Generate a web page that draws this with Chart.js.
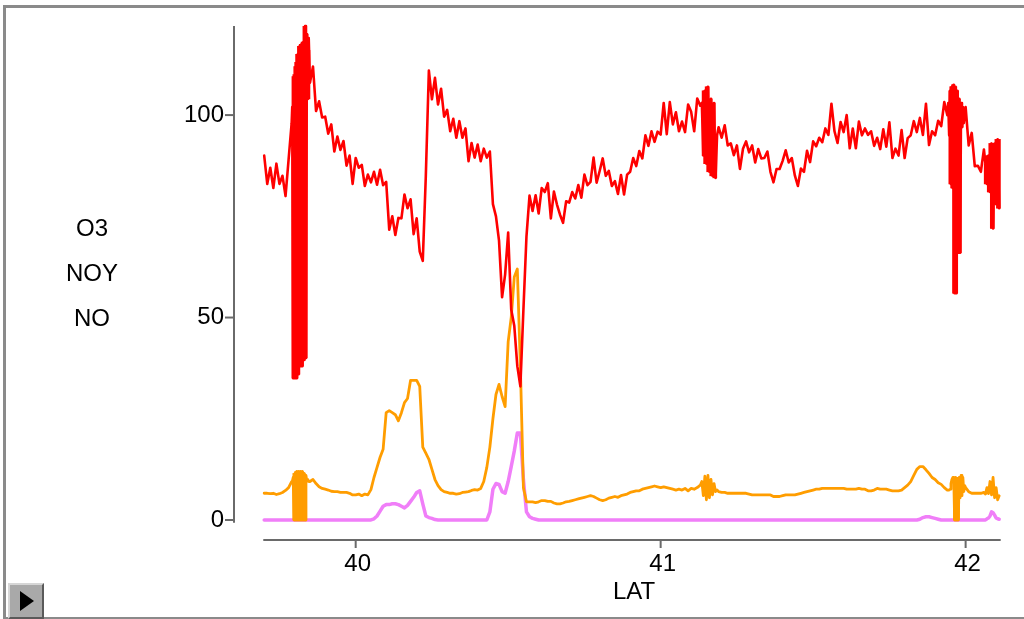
<!DOCTYPE html>
<html>
<head>
<meta charset="utf-8">
<script src="https://cdn.jsdelivr.net/npm/chart.js@4.4.0/dist/chart.umd.min.js"></script>
<style>
  body { margin: 0; background: #fff; }
  #wrap { position: relative; width: 1024px; height: 619px; overflow: hidden; }
  #frame { position: absolute; left: 3px; top: 5px; width: 1030px; height: 609px;
           border-left: 3px solid #8a8a8a; border-top: 3px solid #8a8a8a; border-bottom: 2px solid #8a8a8a; }
  #play { position: absolute; left: 8px; top: 583px; width: 32px; height: 32px; background: #a9a9a9;
          border-top: 2px solid #d6d6d6; border-left: 2px solid #d6d6d6; border-right: 2px solid #5a5a5a; border-bottom: 2px solid #5a5a5a; }
  #play:after { content: ''; position: absolute; left: 10px; top: 6px; border-left: 14px solid #000;
                border-top: 10px solid transparent; border-bottom: 10px solid transparent; }
  canvas { position: absolute; left: 0; top: 0; }
</style>
</head>
<body>
<div id="wrap">
  <canvas id="myChart" width="1024" height="619"></canvas>
  <div id="frame"></div>
  <div id="play"></div>
</div>
<script>
// latitude of each sample (denser where the trace jitters hard)
const lat = [
  39.70,39.71,39.72,39.73,39.74,39.75,39.76,39.77,39.78,39.79,
  39.792,39.795,39.798,39.801,39.804,39.807,39.810,39.813,39.816,39.819,
  39.822,39.825,39.828,39.831,39.834,39.837,39.840,39.843,39.846,
  39.85,39.86,39.87,39.88,39.89,39.90,39.91,39.92,39.93,39.94,
  39.95,39.96,39.97,39.98,39.99,40.00,40.01,40.02,40.03,40.04,
  40.05,40.06,40.07,40.08,40.09,40.10,40.11,40.12,40.13,40.14,
  40.15,40.16,40.17,40.18,40.19,40.20,40.21,40.22,40.23,40.24,
  40.25,40.26,40.27,40.28,40.29,40.30,40.31,40.32,40.33,40.34,
  40.35,40.36,40.37,40.38,40.39,40.40,40.41,40.42,40.43,40.44,
  40.45,40.46,40.47,40.48,40.49,40.50,40.51,40.52,40.53,40.54,
  40.55,40.56,40.57,40.58,40.59,40.60,40.61,40.62,40.63,40.64,
  40.65,40.66,40.67,40.68,40.69,40.70,40.71,40.72,40.73,40.74,
  40.75,40.76,40.77,40.78,40.79,40.80,40.81,40.82,40.83,40.84,
  40.85,40.86,40.87,40.88,40.89,40.90,40.91,40.92,40.93,40.94,
  40.95,40.96,40.97,40.98,40.99,41.00,41.01,41.02,41.03,41.04,
  41.05,41.06,41.07,41.08,41.09,41.10,41.11,41.12,41.13,
  41.135,41.14,41.145,41.15,41.155,41.16,41.165,41.17,41.175,41.18,41.185,
  41.19,41.20,41.21,41.22,41.23,41.24,41.25,41.26,41.27,41.28,
  41.29,41.30,41.31,41.32,41.33,41.34,41.35,41.36,41.37,41.38,
  41.39,41.40,41.41,41.42,41.43,41.44,41.45,41.46,41.47,41.48,
  41.49,41.50,41.51,41.52,41.53,41.54,41.55,41.56,41.57,41.58,
  41.59,41.60,41.61,41.62,41.63,41.64,41.65,41.66,41.67,41.68,
  41.69,41.70,41.71,41.72,41.73,41.74,41.75,41.76,41.77,41.78,
  41.79,41.80,41.81,41.82,41.83,41.84,41.85,41.86,41.87,41.88,
  41.89,41.90,41.91,41.92,41.93,41.94,
  41.943,41.946,41.949,41.952,41.955,41.958,41.961,41.964,41.967,41.970,
  41.973,41.976,41.979,41.982,41.985,41.988,41.991,41.994,41.997,
  42.00,42.01,42.02,42.03,42.04,42.05,42.06,
  42.065,42.07,42.075,42.08,42.085,42.09,42.095,42.10,42.105,42.11
];

const o3 = [
  90,83,87,82,88,83,85,80,89,98,
  102,35,109.5,35,112,35,115,36,117,38,
  117.5,38,118,39.5,122,40,120,104,119,
  108,112,101,103.4,99.4,99.6,95.4,97.7,91,94.7,
  91.4,93.6,87.5,90,83,89.4,87,87.7,82.5,85.3,
  83.4,86,82.8,86.5,82.7,83.5,71.7,75,70.4,74.6,
  74.5,80.4,77,79.2,70.6,74.5,66.3,64,85,111,
  103.9,109.2,102.6,106.5,99.6,101.3,96,99.1,94.4,98.5,
  94.4,96.7,88.6,93.1,89.5,92.7,88.6,91.7,89.5,91,
  78,75,69,55,60.6,71,52,48,38,33,
  52,70,80.1,76.3,80.2,75.7,82,81,83.2,74.5,
  81.1,77.9,75.4,73.4,78.7,78.4,81,79.4,82.7,79.6,
  85.3,82.7,83.5,89.5,83.3,86.2,89.3,85,86.2,82.5,
  83.7,80.5,85.2,80.4,85.3,86,89.4,87.4,91.1,89.3,
  95,92.4,96,93.4,95.9,95.2,103,95.3,103.2,97.7,
  100.7,96,98.4,95.8,102.6,100.8,96,104.1,102.3,
  103,90,106,88,107,86,104,85,103,84.5,95,
  97,94.4,97.5,92.5,93,90.1,92.5,86.7,91.7,93.5,
  90.8,92.5,88.3,91.6,89.3,89.4,91,86,83.4,86.7,
  86.7,88.7,91.3,88.3,89.4,85.1,82.5,86.8,86,91.2,
  88.4,93.5,92.3,94.4,93.3,96.7,95.1,102.8,96,93.1,
  98.3,95.8,100,91.8,96.7,91.8,98.4,95,96.7,95.1,
  96,92.4,94.4,91.6,96.5,92.2,98.2,89.4,91.7,90,
  96.3,89.4,94.3,95,98.5,95.8,99.3,95.1,102.8,92.6,
  96,95,98.6,97.3,103.2,100,
  103,95,106,83,107,82,107.5,56,107,56,
  106,66,104,66,103,97,102,98,100,
  102,92.5,95.6,87.4,87.5,86,91.5,
  88,83,90,81,93,72,93,78,94,77
];

const noy = [
  6.6,6.6,6.5,6.6,6.3,6.5,6.8,7.3,8.0,9.5,
  9.5,10.5,0,11.5,0,12,0,12,0,12,
  0,12,0,11.5,0,11,9.5,10,9.5,
  9.5,10,9,8.2,7.8,7.6,7.4,7.1,7.0,7.0,
  6.8,6.8,6.8,6.6,6.2,6.2,6.4,6.0,6.4,6.2,
  7.5,10.5,13,15.5,17.5,26.5,27,26.5,26,24.5,
  26.5,29,30,34.5,34.5,34.5,33,18,16.5,15,
  12.5,10,8.5,7.5,7,6.8,6.6,6.6,6.4,6.5,
  6.8,6.9,7.0,7.3,7.5,7.4,7.8,9.5,13,18,
  25,31,33.5,30.5,28,44,50,60,62,38,
  8,4.5,4.5,4.5,4.3,4.5,4.8,4.8,4.6,4.6,
  4.2,4.0,4.0,4.2,4.5,4.6,4.8,5.0,5.2,5.4,
  5.6,5.8,6.0,5.8,5.4,5.0,4.8,5.0,5.4,5.6,
  5.8,5.6,6.0,6.2,6.4,6.8,7.0,7.2,7.2,7.6,
  7.8,8.0,8.2,8.4,8.2,8.0,8.2,8.0,7.8,7.6,
  7.4,7.6,7.4,7.8,7.2,7.8,7.6,8.0,8.6,
  9.5,6.0,10.8,5.0,11,5.5,10,6.2,9,7.0,7.4,
  7.0,6.8,6.8,6.6,6.6,6.6,6.6,6.6,6.6,6.6,
  6.4,6.2,6.2,6.2,6.2,6.2,6.2,6.2,5.8,5.8,
  5.8,6.0,6.2,6.2,6.2,6.2,6.4,6.6,6.8,7.0,
  7.2,7.4,7.6,7.6,7.8,7.8,7.8,7.8,7.8,7.8,
  7.8,7.8,7.6,7.6,7.6,7.6,7.8,7.6,7.6,7.2,
  7.2,7.4,7.8,7.6,7.6,7.6,7.4,7.2,7.2,7.2,
  7.4,8.0,8.6,9.5,11,12.5,13.2,13.2,12.4,11.5,
  10.5,10,9.2,8.8,8,7.4,
  7.4,7.4,7.6,9,10,10.5,10.5,0,10.5,0,
  10,0,10.5,5.5,11,6,10.5,7,8.5,
  8,7,6.6,6.6,6.6,6.6,6.8,
  6.4,8,6.5,9.5,6.2,10.5,5.5,8,5,6
];

const no = [
  0,0,0,0,0,0,0,0,0,0,
  0,0,0,0,0,0,0,0,0,0,
  0,0,0,0,0,0,0,0,0,
  0,0,0,0,0,0,0,0,0,0,
  0,0,0,0,0,0,0,0,0,0,
  0,0.3,1.0,2.2,3.4,3.8,3.8,4.0,4.0,3.8,
  3.4,3.0,3.6,4.6,5.6,6.8,7.2,4.0,1.0,0.6,
  0.4,0.1,0,0,0,0,0,0,0,0,
  0,0,0,0,0,0,0,0,0,2.0,
  7.6,9.0,8.8,7.0,6.6,9.5,13.2,17,21.5,21.5,
  10,2.0,0.8,0.4,0.2,0,0,0,0,0,
  0,0,0,0,0,0,0,0,0,0,
  0,0,0,0,0,0,0,0,0,0,
  0,0,0,0,0,0,0,0,0,0,
  0,0,0,0,0,0,0,0,0,0,
  0,0,0,0,0,0,0,0,0,
  0,0,0,0,0,0,0,0,0,0,0,
  0,0,0,0,0,0,0,0,0,0,
  0,0,0,0,0,0,0,0,0,0,
  0,0,0,0,0,0,0,0,0,0,
  0,0,0,0,0,0,0,0,0,0,
  0,0,0,0,0,0,0,0,0,0,
  0,0,0,0,0,0,0,0,0,0,
  0,0,0,0,0,0,0.2,0.6,0.8,0.8,
  0.6,0.4,0.2,0,0,0,
  0,0,0,0,0,0,0,0,0,0,
  0,0,0,0,0,0,0,0,0,
  0,0,0,0,0,0,0,
  0,0.3,0.5,1.0,2.0,1.8,1.2,0.5,0.3,0.2
];

// spread (low / high) of the trace where it jitters too fast to resolve
const o3BandLat = [
  39.795,39.798,39.801,39.804,39.807,39.810,39.813,39.816,39.819,
  39.822,39.825,39.828,39.831,39.834,39.837,39.840,39.843,39.846,
  41.14,41.145,41.15,41.155,41.16,41.165,41.17,41.175,41.18,
  41.949,41.952,41.955,41.958,41.961,41.964,41.967,41.970,
  41.973,41.976,41.979,41.982,41.985,41.988,41.991,
  42.065,42.07,42.075,42.08,42.085,42.09,42.095,42.10,42.105,42.11
];
const o3BandLo = [
  35,35,35,35,35,36,36,38,38,
  38,38,39.5,39.5,40,40,104,104,104,
  90,88,88,86,86,85,85,84.5,84.5,
  83,83,82,82,56,56,56,56,
  66,66,66,66,97,97,98,
  83,83,81,81,72,72,78,78,77,77
];
const o3BandHi = [
  109.5,110,112,113,115,115,117,117,117.5,
  117.5,118,118,122,122,120,120,119,116,
  106,106,107,107,104,104,103,103,95,
  106,107,107,107.5,107.5,107,107,106,
  106,104,104,103,103,102,102,
  88,90,90,93,93,93,93,94,94,94
];

const noyBandLat = [
  39.798,39.801,39.804,39.807,39.810,39.813,39.816,39.819,39.822,39.825,39.828,39.831,39.834,
  41.964,41.967,41.970,41.973,41.976
];
const noyBandLo = [0,0,0,0,0,0,0,0,0,0,0,0,0, 0,0,0,0,0];
const noyBandHi = [11.5,11.5,12,12,12,12,12,12,12,12,11.5,11.5,11, 10.5,10.5,10.5,10.5,10.5];

const yTicks = [0, 50, 100];
const xTicks = [40, 41, 42];
const seriesNames = ['O3', 'NOY', 'NO'];

const FONT = '24px "Liberation Sans", Arial, sans-serif';

let axes = {
  id: 'axes',
  beforeDatasetsDraw(chart) {
    const { ctx, scales: { x, y } } = chart;
    ctx.save();
    ctx.strokeStyle = '#6a6a6a';
    ctx.lineWidth = 2;
    // y axis (stops just below zero)
    const ax = x.left;
    ctx.beginPath();
    ctx.moveTo(ax, y.getPixelForValue(122));
    ctx.lineTo(ax, y.getPixelForValue(-0.7));
    ctx.stroke();
    yTicks.forEach(v => {
      const py = y.getPixelForValue(v);
      ctx.beginPath();
      ctx.moveTo(ax - 9, py);
      ctx.lineTo(ax, py);
      ctx.stroke();
    });
    // x axis, offset below the plot
    const ay = y.bottom;
    ctx.beginPath();
    ctx.moveTo(x.getPixelForValue(39.697), ay);
    ctx.lineTo(x.getPixelForValue(42.115), ay);
    ctx.stroke();
    xTicks.forEach(v => {
      const px = x.getPixelForValue(v);
      ctx.beginPath();
      ctx.moveTo(px, ay);
      ctx.lineTo(px, ay + 8);
      ctx.stroke();
    });
    ctx.restore();
  },
  afterDraw(chart) {
    const { ctx, scales: { x, y } } = chart;
    ctx.save();
    ctx.fillStyle = '#000';
    ctx.font = FONT;
    ctx.textBaseline = 'middle';
    ctx.textAlign = 'right';
    yTicks.forEach(v => ctx.fillText(String(v), x.left - 10, y.getPixelForValue(v)));
    ctx.textAlign = 'center';
    xTicks.forEach(v => ctx.fillText(String(v), x.getPixelForValue(v) + 2, y.bottom + 24));
    ctx.fillText('LAT', 634, 592);
    seriesNames.forEach((s, i) => ctx.fillText(s, 92, 229 + i * 45));
    ctx.restore();
  }
};

let plot = () => {
  const ctx = document.getElementById('myChart');
  const pts = (arr) => lat.map((v, i) => ({ x: v, y: arr[i] }));
  const band = (xs, lo, hi) => xs.map((v, i) => ({ x: v, y: [lo[i], hi[i]] }));
  // higher order is drawn first: NO, NOY, NOY spread, O3, O3 spread on top
  const dataset = {
    datasets: [
      { label: 'O3', data: pts(o3), borderColor: '#ff0000', borderWidth: 2.6, order: 1 },
      { type: 'bar', label: 'O3 spread', data: band(o3BandLat, o3BandLo, o3BandHi),
        backgroundColor: '#ff0000', barThickness: 2.5, grouped: false, order: 0.5 },
      { label: 'NOY', data: pts(noy), borderColor: '#ff9d00', borderWidth: 2.8, order: 2 },
      { type: 'bar', label: 'NOY spread', data: band(noyBandLat, noyBandLo, noyBandHi),
        backgroundColor: '#ff9d00', barThickness: 2.5, grouped: false, order: 1.8 },
      { label: 'NO', data: pts(no), borderColor: '#f07ef8', borderWidth: 3.5, order: 3 }
    ]
  };
  const config = {
    type: 'line',
    data: dataset,
    options: {
      responsive: false,
      animation: false,
      devicePixelRatio: 1,
      layout: { padding: { left: 234, right: 23, top: 26, bottom: 79 } },
      elements: {
        point: { radius: 0 },
        line: { tension: 0, fill: false, borderJoinStyle: 'round', borderCapStyle: 'round' }
      },
      datasets: { line: { clip: false } },
      plugins: { legend: { display: false }, tooltip: { enabled: false } },
      scales: {
        x: { type: 'linear', min: 39.601, max: 42.116, offset: false, display: false },
        y: { type: 'linear', min: -4.94, max: 122, beginAtZero: false, display: false }
      }
    },
    plugins: [axes]
  };
  const chart = new Chart(ctx, config);
};

plot();
</script>
</body>
</html>
